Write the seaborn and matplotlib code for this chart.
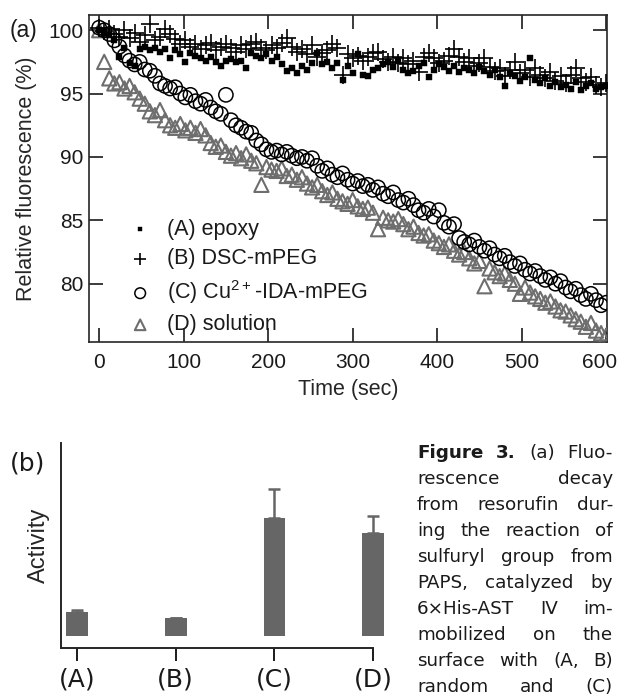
import numpy as np
import pandas as pd
import matplotlib
matplotlib.use("Agg")
import matplotlib.pyplot as plt
import matplotlib.transforms as mtransforms
import seaborn as sns

# ---------------- data ----------------
time_s = list(range(0, 601, 6))

epoxy = [100.0, 99.8, 99.6, 99.2, 97.9, 98.6, 97.4, 97.2, 98.5, 98.7,
         98.4, 98.6, 98.3, 98.5, 97.8, 98.4, 98.1, 97.5, 98.2, 98.0,
         97.8, 97.6, 97.9, 97.5, 97.2, 97.6, 97.7, 97.5, 97.6, 97.0,
         98.2, 98.0, 97.8, 98.1, 97.6, 97.9, 97.3, 96.8, 97.0, 96.6,
         97.2, 96.9, 97.4, 98.2, 97.3, 97.5, 97.0, 97.4, 96.1, 97.2,
         96.6, 98.1, 96.5, 96.4, 96.9, 97.0, 97.3, 97.5, 97.1, 97.6,
         96.9, 96.6, 96.8, 97.2, 97.4, 96.3, 96.9, 97.3, 97.1, 96.8,
         97.2, 96.7, 97.0, 96.9, 96.6, 97.1, 96.8, 96.5, 96.9, 96.3,
         95.6, 96.6, 96.4, 96.0, 96.3, 97.8, 96.1, 95.8, 96.2, 95.6,
         95.9, 95.5, 95.7, 95.4, 95.9, 95.3, 95.6, 95.8, 95.4, 95.5,
         95.6]

dsc_mpeg = [100.2, 99.9, 100.1, 99.7, 99.5, 100.0, 99.4, 99.8, 99.1, 99.6,
            100.5, 99.2, 99.5, 100.1, 99.7, 99.3, 98.9, 99.2, 98.7, 98.9,
            98.5, 98.8, 99.0, 98.4, 98.7, 98.9, 98.6, 98.3, 98.8, 98.5,
            98.9, 99.1, 98.6, 98.4, 98.8, 98.6, 99.0, 99.4, 98.7, 98.3,
            98.5, 98.1, 98.8, 97.9, 98.2, 98.4, 98.9, 98.6, 96.5, 98.1,
            97.8, 98.0, 97.6, 97.9, 98.2, 98.3, 97.7, 97.5, 97.9, 97.4,
            97.8, 97.3, 97.6, 96.7, 97.9, 98.2, 97.8, 97.4, 97.6, 98.0,
            98.5, 97.9, 97.5, 97.8, 97.2, 97.4, 97.8, 97.1, 96.8, 97.0,
            96.4, 96.9, 97.5, 96.6, 96.9, 96.3, 97.0, 96.5, 96.2, 96.7,
            96.0, 96.4, 95.8, 96.5, 97.0, 96.2, 95.9, 96.3, 95.7, 95.5,
            95.8]

cu_ida_mpeg = [100.2, 100.0, 99.7, 99.2, 98.7, 98.0, 97.6, 97.3, 97.5, 96.9,
               96.8, 96.4, 95.8, 95.6, 95.4, 95.5, 95.0, 94.7, 94.9, 94.4,
               94.2, 94.5, 93.9, 93.6, 93.4, 94.9, 92.9, 92.5, 92.3, 92.0,
               91.9, 91.3, 91.0, 90.6, 90.4, 90.5, 90.2, 90.4, 90.1, 89.9,
               90.0, 89.7, 89.9, 89.3, 88.9, 89.1, 88.6, 88.4, 88.7, 88.2,
               87.9, 88.1, 87.7, 87.8, 87.4, 87.6, 87.1, 86.9, 87.2, 86.6,
               86.4, 86.7, 86.2, 85.8, 85.6, 85.9, 85.3, 85.8, 84.8, 84.5,
               84.7, 83.6, 83.3, 83.1, 83.4, 82.9, 82.6, 82.8, 82.3, 82.0,
               82.2, 81.7, 81.4, 81.6, 81.1, 80.8, 81.0, 80.6, 80.3, 80.5,
               80.0, 80.2, 79.7, 79.4, 79.6, 79.1, 78.8, 79.2, 78.7, 78.3,
               78.5]

solution = [100.0, 97.5, 96.2, 95.8, 95.9, 95.4, 95.6, 95.1, 94.6, 94.2,
            93.6, 93.3, 93.7, 92.9, 92.5, 92.3, 92.6, 92.1, 92.3, 91.9,
            92.2, 91.7, 91.1, 90.8, 90.9, 90.4, 90.1, 90.3, 89.9, 90.2,
            89.7, 89.5, 87.8, 89.2, 89.0, 88.9, 89.1, 88.5, 88.6, 88.2,
            88.4, 87.9, 87.6, 87.8, 87.3, 87.0, 87.2, 86.7, 86.5, 86.3,
            86.6, 86.1, 85.9, 86.0, 85.6, 84.3, 85.2, 85.0, 84.9, 85.1,
            84.7, 84.3, 84.5, 84.0, 83.8, 83.9, 83.4, 83.2, 82.9, 83.1,
            82.6, 82.3, 82.5, 82.0, 81.6, 81.8, 79.8, 81.2, 80.9, 80.6,
            80.8, 80.3, 80.0, 79.2, 79.7, 79.3, 79.0, 78.8, 78.5, 78.6,
            78.2, 77.9, 77.8, 77.5, 77.2, 77.0, 76.6, 76.9, 76.3, 76.1,
            75.9]

series_labels = ["(A) epoxy", "(B) DSC-mPEG", "(C) Cu$^{2+}$-IDA-mPEG", "(D) solution"]
x_ticks = [0, 100, 200, 300, 400, 500, 600]
y_ticks = [80, 85, 90, 95, 100]

bar_categories = ["(A)", "(B)", "(C)", "(D)"]
bar_values = [0.20, 0.15, 1.00, 0.87]
bar_errors = [0.02, 0.0, 0.25, 0.15]

caption_lines = [
    [("Figure", True), ("3.", True), ("(a)", False), ("Fluo-", False)],
    [("rescence", False), ("decay", False)],
    [("from", False), ("resorufin", False), ("dur-", False)],
    [("ing", False), ("the", False), ("reaction", False), ("of", False)],
    [("sulfuryl", False), ("group", False), ("from", False)],
    [("PAPS,", False), ("catalyzed", False), ("by", False)],
    [("6\u00d7His-AST", False), ("IV", False), ("im-", False)],
    [("mobilized", False), ("on", False), ("the", False)],
    [("surface", False), ("with", False), ("(A,", False), ("B)", False)],
    [("random", False), ("and", False), ("(C)", False)],
]

# ---------------- style ----------------
sns.set_theme(style="ticks")
plt.rcParams["font.family"] = ["Liberation Sans", "DejaVu Sans"]
plt.rcParams["mathtext.fontset"] = "custom"
plt.rcParams["mathtext.rm"] = "Liberation Sans"
plt.rcParams["mathtext.default"] = "regular"
plt.rcParams["axes.linewidth"] = 1.2
plt.rcParams["text.color"] = "#1a1a1a"

W, H = 618, 698
fig = plt.figure(figsize=(W / 100, H / 100), dpi=100)
fig.patch.set_facecolor("white")


def fig_rect(left, top, right, bottom):
    return [left / W, 1 - bottom / H, (right - left) / W, (bottom - top) / H]


# ---------------- panel (a) ----------------
ax = fig.add_axes(fig_rect(89, 15, 607, 342))
tri_col = "#6e6e6e"

sns.scatterplot(x=time_s, y=solution, marker="^", s=105, facecolors="none",
                edgecolor=tri_col, linewidth=1.5, ax=ax, label=series_labels[3], zorder=3)
sns.scatterplot(x=time_s, y=cu_ida_mpeg, marker="o", s=105, facecolors="none",
                edgecolor="black", linewidth=1.1, ax=ax, label=series_labels[2], zorder=4)
sns.scatterplot(x=time_s, y=dsc_mpeg, marker="+", s=150, color="black",
                linewidth=1.2, ax=ax, label=series_labels[1], zorder=5)
sns.scatterplot(x=time_s, y=epoxy, marker="s", s=22, color="black",
                edgecolor="black", linewidth=0.3, ax=ax, label=series_labels[0], zorder=6)

ax.set_xlim(-12, 601)
ax.set_ylim(75.4, 101.2)
ax.set_xticks(x_ticks)
ax.set_yticks(y_ticks)
ax.tick_params(direction="in", length=10, width=1.2, top=True, right=True,
               labelsize=15, colors="#1a1a1a")
ax.tick_params(axis="x", pad=8)
ax.tick_params(axis="y", pad=4)
ax.set_xlabel("Time (sec)", fontsize=15.5, labelpad=5)
ax.set_ylabel("Relative fluorescence (%)", fontsize=15.5, labelpad=8)

# keep the last x tick label inside the canvas
last_lab = ax.get_xticklabels()[-1]
last_lab.set_transform(last_lab.get_transform() +
                       mtransforms.ScaledTranslation(-7 / 100, 0, fig.dpi_scale_trans))

handles, labels = ax.get_legend_handles_labels()
order = [labels.index(l) for l in series_labels]
leg = ax.legend([handles[i] for i in order], [labels[i] for i in order],
                loc="lower left", bbox_to_anchor=(0.078, 0.02), frameon=False,
                fontsize=15.5, handlelength=1.0, handletextpad=0.75,
                labelspacing=0.40, borderpad=0, borderaxespad=0,
                markerscale=0.75)

fig.text(10 / W, 1 - 30 / H, "(a)", fontsize=16.5, ha="left", va="center")

# ---------------- panel (b) ----------------
bx = fig.add_axes(fig_rect(61, 443, 373, 648))
bar_df = pd.DataFrame({"group": bar_categories, "activity": bar_values})
sns.barplot(data=bar_df, x="group", y="activity", color="#666666", saturation=1,
            width=0.22, errorbar=None, ax=bx)
for p in bx.patches:
    p.set_clip_on(False)
    p.set_edgecolor("none")
pos = np.arange(len(bar_categories))
eb = bx.errorbar(pos, bar_values, yerr=[np.zeros(len(bar_errors)), bar_errors],
                 fmt="none", ecolor="#666666", elinewidth=1.8, capsize=4.5,
                 capthick=1.8, zorder=1)
for art in eb.lines[1] + eb.lines[2]:
    art.set_clip_on(False)

bx.set_xlim(-0.163, 3.0)
bx.set_ylim(-0.102, 1.636)
bx.set_yticks([])
bx.set_xlabel("")
bx.set_ylabel("Activity", fontsize=17, labelpad=8)
for side in ["top", "right"]:
    bx.spines[side].set_visible(False)
bx.spines["left"].set_linewidth(1.4)
bx.spines["bottom"].set_linewidth(1.4)
bx.tick_params(axis="x", direction="out", length=9, width=1.4, pad=5,
               colors="#1a1a1a")
for t in bx.get_xticklabels():
    t.set_fontfamily("DejaVu Sans")
    t.set_fontsize(18)

fig.text(10 / W, 1 - 463 / H, "(b)", fontsize=18, ha="left", va="center",
         family="DejaVu Sans")

# ---------------- caption (justified) ----------------
fig.canvas.draw()
renderer = fig.canvas.get_renderer()
x0, x1 = 417, 613
y_first, dy = 453, 26
for i, words in enumerate(caption_lines):
    ypx = y_first + i * dy
    texts = []
    for w, bold in words:
        t = fig.text(0, 1 - ypx / H, w, fontsize=13.2, ha="left", va="center",
                     fontweight="bold" if bold else "normal",
                     family=["DejaVu Sans"])
        texts.append(t)
    widths = [t.get_window_extent(renderer).width for t in texts]
    gap = (x1 - x0 - sum(widths)) / (len(texts) - 1)
    x = x0
    for t, wdt in zip(texts, widths):
        t.set_x(x / W)
        x += wdt + gap

fig.savefig("out.png", dpi=100, facecolor="white")
